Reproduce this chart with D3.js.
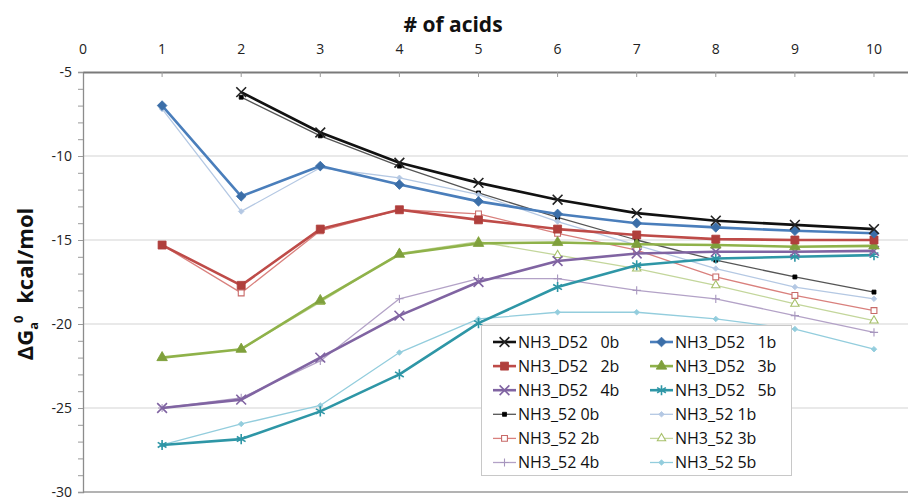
<!DOCTYPE html>
<html>
<head>
<meta charset="utf-8">
<script src="https://cdn.jsdelivr.net/npm/d3@7"></script>
<style>
  html, body { margin: 0; padding: 0; background: #fff; }
  svg { display: block; font-family: "Open Sans", "Liberation Sans", sans-serif; }
</style>
</head>
<body>
<svg id="chart" width="908" height="497"></svg>
<script>
// Number of acids on the x axis
const acids = [1, 2, 3, 4, 5, 6, 7, 8, 9, 10];
const xTickValues = [0, 1, 2, 3, 4, 5, 6, 7, 8, 9, 10];
const yTickValues = [-5, -10, -15, -20, -25, -30];

// Free energies of association (kcal/mol), one array per series
const d52_0b = [null, -6.2, -8.6, -10.4, -11.6, -12.6, -13.4, -13.85, -14.1, -14.35];
const d52_1b = [-7.0, -12.4, -10.6, -11.7, -12.7, -13.45, -14.0, -14.25, -14.45, -14.6];
const d52_2b = [-15.3, -17.7, -14.35, -13.2, -13.8, -14.35, -14.7, -14.95, -15.0, -15.0];
const d52_3b = [-22.0, -21.5, -18.6, -15.85, -15.2, -15.15, -15.25, -15.3, -15.4, -15.35];
const d52_4b = [-25.0, -24.5, -22.0, -19.5, -17.5, -16.25, -15.8, -15.7, -15.7, -15.65];
const d52_5b = [-27.2, -26.85, -25.2, -23.0, -19.95, -17.8, -16.5, -16.1, -16.0, -15.9];
const s52_0b = [null, -6.5, -8.8, -10.6, -12.2, -13.65, -15.0, -16.2, -17.2, -18.1];
const s52_1b = [-7.2, -13.3, -10.7, -11.3, -12.3, -13.9, -15.3, -16.7, -17.8, -18.5];
const s52_2b = [-15.3, -18.15, -14.45, -13.2, -13.45, -14.6, -15.6, -17.2, -18.3, -19.2];
const s52_3b = [-22.0, -21.5, -18.7, -15.8, -15.1, -15.9, -16.7, -17.7, -18.8, -19.8];
const s52_4b = [-25.0, -24.4, -22.2, -18.5, -17.3, -17.3, -18.0, -18.5, -19.5, -20.5];
const s52_5b = [-27.2, -25.95, -24.85, -21.7, -19.7, -19.3, -19.3, -19.7, -20.3, -21.5];

const seriesNames = [
  "NH3_D52   0b", "NH3_D52   1b", "NH3_D52   2b", "NH3_D52   3b", "NH3_D52   4b", "NH3_D52   5b",
  "NH3_52 0b", "NH3_52 1b", "NH3_52 2b", "NH3_52 3b", "NH3_52 4b", "NH3_52 5b"
];
const seriesValues = [d52_0b, d52_1b, d52_2b, d52_3b, d52_4b, d52_5b,
                      s52_0b, s52_1b, s52_2b, s52_3b, s52_4b, s52_5b];

// Drawing style for each series (same order as seriesNames)
const styles = [
  { color: "#111111", width: 2.6, symbol: d3.symbolTimes,    size: 64, fill: false, mcolor: "#222" },
  { color: "#4a7ebb", width: 2.6, symbol: d3.symbolDiamond2, size: 60, fill: true,  mcolor: "#3b6ea8" },
  { color: "#be4b48", width: 2.6, symbol: d3.symbolSquare,   size: 64, fill: true,  mcolor: "#b03f3c" },
  { color: "#8fb24a", width: 2.6, symbol: d3.symbolTriangle, size: 48, fill: true,  mcolor: "#7fa03c" },
  { color: "#8064a2", width: 2.6, symbol: d3.symbolTimes,    size: 64, fill: false, mcolor: "#8064a2" },
  { color: "#2e96a6", width: 2.6, symbol: d3.symbolAsterisk, size: 72, fill: false, mcolor: "#2e96a6" },
  { color: "#555555", width: 1.3, symbol: d3.symbolSquare,   size: 16, fill: true,  mcolor: "#000" },
  { color: "#b4c8e3", width: 1.3, symbol: d3.symbolDiamond2, size: 20, fill: true,  mcolor: "#b4c8e3" },
  { color: "#d9807d", width: 1.3, symbol: d3.symbolSquare,   size: 34, fill: false, mcolor: "#c86a68" },
  { color: "#c3d69b", width: 1.3, symbol: d3.symbolTriangle, size: 30, fill: false, mcolor: "#a7c06a" },
  { color: "#b3a2c7", width: 1.3, symbol: d3.symbolPlus,     size: 24, fill: false, mcolor: "#a796be" },
  { color: "#93cddd", width: 1.3, symbol: d3.symbolDiamond2, size: 20, fill: true,  mcolor: "#93cddd" }
];

const svg = d3.select("#chart");
const plotLeft = 83, plotRight = 908, plotTop = 72, plotBottom = 492;

const x = d3.scaleLinear().domain([0, 10.43]).range([plotLeft, plotRight]);
const y = d3.scaleLinear().domain([-5, -30]).range([plotTop, plotBottom]);

// Horizontal gridlines
svg.append("g").selectAll("line")
  .data(yTickValues.filter(v => v !== -5))
  .join("line")
  .attr("x1", plotLeft).attr("x2", plotRight)
  .attr("y1", d => y(d)).attr("y2", d => y(d))
  .attr("stroke", d => d === -30 ? "#9a9a9a" : "#d4d4d4")
  .attr("stroke-width", d => d === -30 ? 1.6 : 1.2);

// Left axis with minor ticks every unit
const yAxis = d3.axisLeft(y)
  .tickValues(d3.range(-5, -31, -1))
  .tickSize(5)
  .tickFormat("");
const gy = svg.append("g").attr("transform", `translate(${plotLeft},0)`).call(yAxis);
gy.select(".domain").attr("stroke", "#8c8c8c").attr("stroke-width", 1.3);
gy.selectAll(".tick line").attr("stroke", "#9a9a9a");

svg.append("g").selectAll("text")
  .data(yTickValues)
  .join("text")
  .attr("x", plotLeft - 11)
  .attr("y", d => y(d))
  .attr("dy", "0.35em")
  .attr("text-anchor", "end")
  .attr("font-size", 14)
  .attr("fill", "#222")
  .text(d => d);

// Top axis
const xAxis = d3.axisTop(x).tickValues(xTickValues).tickSize(0).tickFormat("");
const gx = svg.append("g").attr("transform", `translate(0,${plotTop})`).call(xAxis);
gx.select(".domain").attr("stroke", "#7a7a7a").attr("stroke-width", 1.8);
svg.append("g").selectAll("line")
  .data(xTickValues.filter(v => v > 0))
  .join("line")
  .attr("x1", d => x(d)).attr("x2", d => x(d))
  .attr("y1", plotTop).attr("y2", plotTop + 5)
  .attr("stroke", "#9a9a9a");

svg.append("g").selectAll("text")
  .data(xTickValues)
  .join("text")
  .attr("x", d => x(d))
  .attr("y", 54)
  .attr("text-anchor", "middle")
  .attr("font-size", 14)
  .attr("fill", "#222")
  .text(d => d);

// Axis titles
svg.append("text")
  .attr("x", 453).attr("y", 32)
  .attr("text-anchor", "middle")
  .attr("font-size", 21).attr("font-weight", "bold")
  .attr("fill", "#111")
  .text("# of acids");

const ylab = svg.append("text")
  .attr("transform", "translate(33,284) rotate(-90)")
  .attr("text-anchor", "middle")
  .attr("font-size", 22).attr("font-weight", "bold")
  .attr("fill", "#111");
ylab.append("tspan").text("ΔG");
ylab.append("tspan").attr("font-size", 13).attr("dy", 5).text("a");
ylab.append("tspan").attr("font-size", 13).attr("dx", -1).attr("dy", -15).text("0");
ylab.append("tspan").attr("dx", 6).attr("dy", 10).text(" kcal/mol");

// Lines and markers
const line = d3.line()
  .defined(d => d.v !== null)
  .x(d => x(d.n))
  .y(d => y(d.v));

function drawMarker(sel, st) {
  sel.attr("d", d3.symbol().type(st.symbol).size(st.size))
    .attr("fill", st.fill ? st.mcolor : (st.symbol === d3.symbolSquare || st.symbol === d3.symbolTriangle ? "#fff" : "none"))
    .attr("stroke", st.mcolor)
    .attr("stroke-width", st.fill ? 0.8 : (st.width > 2 ? 1.6 : 1.1));
}

// Thin series first, bold series on top
const order = [6, 7, 8, 9, 10, 11, 5, 4, 3, 2, 1, 0];
order.forEach(i => {
  const st = styles[i];
  const pts = acids.map((n, k) => ({ n, v: seriesValues[i][k] }));
  const g = svg.append("g");
  g.append("path")
    .attr("d", line(pts))
    .attr("fill", "none")
    .attr("stroke", st.color)
    .attr("stroke-width", st.width)
    .attr("stroke-linejoin", "round");
  g.selectAll("path.m")
    .data(pts.filter(p => p.v !== null))
    .join("path")
    .attr("class", "m")
    .attr("transform", p => `translate(${x(p.n)},${y(p.v)})`)
    .call(drawMarker, st);
});

// Legend
const lg = svg.append("g");
lg.append("rect")
  .attr("x", 481.5).attr("y", 325.5)
  .attr("width", 310).attr("height", 150)
  .attr("fill", "#fff")
  .attr("stroke", "#c8c8c8");

seriesNames.forEach((name, k) => {
  const col = k % 2, row = Math.floor(k / 2);
  const lx = col === 0 ? 493 : 650;
  const ly = 342 + row * 24.1;
  const st = styles[k];
  lg.append("line")
    .attr("x1", lx).attr("x2", lx + 23)
    .attr("y1", ly).attr("y2", ly)
    .attr("stroke", st.color)
    .attr("stroke-width", st.width);
  lg.append("path")
    .attr("transform", `translate(${lx + 11.5},${ly})`)
    .call(drawMarker, st);
  lg.append("text")
    .attr("x", lx + 25)
    .attr("y", ly)
    .attr("dy", "0.36em")
    .attr("font-size", 16)
    .attr("fill", "#111")
    .style("white-space", "pre")
    .text(name);
});
</script>
</body>
</html>
